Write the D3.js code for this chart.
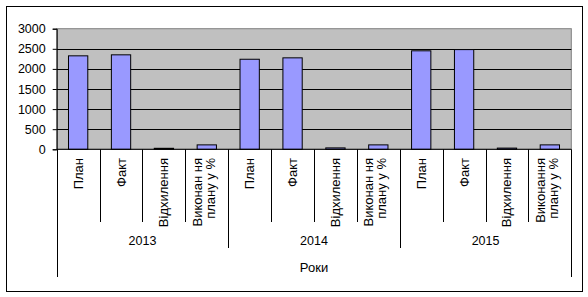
<!DOCTYPE html>
<html>
<head>
<meta charset="utf-8">
<script src="https://cdn.jsdelivr.net/npm/d3@7"></script>
<style>
  body { margin: 0; background: #fff; }
  svg text { font-family: "Liberation Sans", Arial, sans-serif; font-size: 12px; fill: #000; }
  svg text.cat { font-size: 13px; }
</style>
</head>
<body>
<svg id="chart" width="588" height="297"></svg>
<script>
// chart data
const years = ["2013", "2014", "2015"];
const indicators = [
  ["План"], ["Факт"], ["Відхилення"], ["Виконан ня", "плану у %"]
];
const indicators2015 = [
  ["План"], ["Факт"], ["Відхилення"], ["Виконання", "плану у %"]
];
const values = [
  2325, 2350, 25, 110,
  2240, 2275, 35, 110,
  2450, 2480, 30, 110
];
const yTicks = [0, 500, 1000, 1500, 2000, 2500, 3000];
const axisTitle = "Роки";

// build flat category list
const cats = [];
years.forEach((yr, i) => {
  const labs = yr === "2015" ? indicators2015 : indicators;
  labs.forEach((lab, j) => cats.push({ key: yr + "|" + j, year: yr, lines: lab, value: values[i * 4 + j] }));
});

const svg = d3.select("#chart");

// outer frame
svg.append("rect")
  .attr("x", 6.5).attr("y", 6.5)
  .attr("width", 576).attr("height", 285)
  .attr("fill", "#fff").attr("stroke", "#000");

const pLeft = 56.7, pRight = 571.3, pTop = 28.7, pBottom = 149.3;

const x = d3.scaleBand().domain(cats.map(d => d.key)).range([pLeft, pRight]).padding(0);
const y = d3.scaleLinear().domain([0, 3000]).range([pBottom, pTop]);

// plot area
svg.append("rect")
  .attr("x", pLeft).attr("y", pTop)
  .attr("width", pRight - pLeft).attr("height", pBottom - pTop)
  .attr("fill", "#c0c0c0").attr("stroke", "#808080");

// gridlines
svg.append("g").selectAll("line")
  .data(yTicks.filter(t => t > 0 && t < 3000))
  .enter().append("line")
  .attr("x1", pLeft).attr("x2", pRight)
  .attr("y1", d => Math.round(y(d)) + 0.5).attr("y2", d => Math.round(y(d)) + 0.5)
  .attr("stroke", "#000");

// bars
const bw = x.bandwidth() * 0.45;
svg.append("g").selectAll("rect")
  .data(cats)
  .enter().append("rect")
  .attr("x", d => x(d.key) + (x.bandwidth() - bw) / 2)
  .attr("y", d => y(d.value))
  .attr("width", bw)
  .attr("height", d => pBottom - y(d.value))
  .attr("fill", "#9999ff")
  .attr("stroke", "#000");

// y axis
const yAxis = d3.axisLeft(y).tickValues(yTicks).tickSize(4).tickPadding(7).tickFormat(d3.format("d"));
const ga = svg.append("g").attr("transform", `translate(${pLeft},0)`).call(yAxis);
ga.select(".domain").attr("stroke", "#000");
ga.selectAll(".tick line").attr("stroke", "#000");
ga.selectAll(".tick text").style("font-size", "12.5px").attr("fill", "#000")
  .style("font-family", "Liberation Sans, Arial, sans-serif");

// x axis baseline
svg.append("line")
  .attr("x1", pLeft).attr("x2", pRight)
  .attr("y1", pBottom).attr("y2", pBottom)
  .attr("stroke", "#000");

// category separators (multi-level)
const sep = svg.append("g").attr("stroke", "#000");
d3.range(cats.length + 1).forEach(k => {
  const xx = Math.round(k === cats.length ? pRight : x(cats[k].key)) + 0.5;
  let y2 = 222;
  if (k === 0 || k === cats.length) y2 = 277;
  else if (k % 4 === 0) y2 = 248;
  sep.append("line").attr("x1", xx).attr("x2", xx).attr("y1", pBottom).attr("y2", y2);
});

// category labels (rotated)
cats.forEach(d => {
  const cx = x(d.key) + x.bandwidth() / 2;
  const n = d.lines.length;
  d.lines.forEach((line, i) => {
    const off = (i - (n - 1) / 2) * 12.7 - (n > 1 ? 3 : 0);
    svg.append("text")
      .attr("class", "cat")
      .attr("transform", `translate(${cx + off + 4.5},158) rotate(-90)`)
      .attr("text-anchor", "end")
      .text(line);
  });
});

// year labels
years.forEach((yr, i) => {
  const x0 = x(cats[i * 4].key);
  const x1 = x(cats[i * 4 + 3].key) + x.bandwidth();
  svg.append("text")
    .attr("x", (x0 + x1) / 2).attr("y", 245)
    .attr("text-anchor", "middle")
    .style("font-size", "12.5px")
    .text(yr);
});

// axis title
svg.append("text")
  .attr("x", (pLeft + pRight) / 2).attr("y", 272)
  .attr("text-anchor", "middle")
  .style("font-size", "13px")
  .text(axisTitle);
</script>
</body>
</html>
